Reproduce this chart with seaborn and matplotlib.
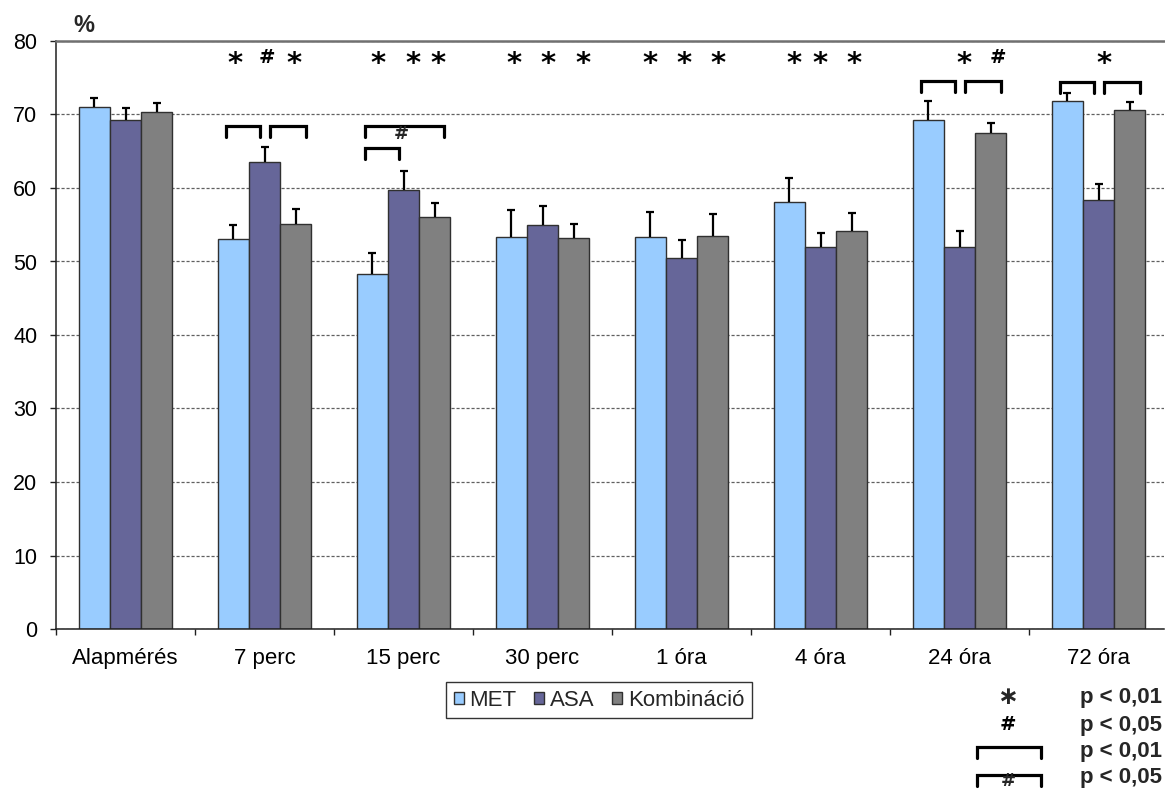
import numpy as np
import pandas as pd
import matplotlib
matplotlib.use("Agg")
import matplotlib.pyplot as plt
from matplotlib.patches import Patch
from matplotlib.lines import Line2D
from matplotlib.ticker import FixedLocator
import seaborn as sns

# ---- data -------------------------------------------------------------
categories = ["Alapmérés", "7 perc", "15 perc", "30 perc", "1 óra", "4 óra", "24 óra", "72 óra"]
groups = ["MET", "ASA", "Kombináció"]

met_mean = [71.0, 53.1, 48.3, 53.3, 53.3, 58.1, 69.3, 71.8]
met_err = [1.3, 1.8, 2.9, 3.7, 3.4, 3.3, 2.6, 1.1]
asa_mean = [69.3, 63.6, 59.7, 54.9, 50.5, 52.0, 52.0, 58.3]
asa_err = [1.6, 2.0, 2.6, 2.6, 2.4, 1.9, 2.2, 2.2]
komb_mean = [70.3, 55.1, 56.0, 53.2, 53.5, 54.2, 67.5, 70.6]
komb_err = [1.3, 2.1, 1.9, 1.9, 2.9, 2.4, 1.4, 1.1]

palette = {"MET": "#99CCFF", "ASA": "#666699", "Kombináció": "#808080"}

# significance marks above each time point: (category, offset within group, symbol)
marks = [
    (1, -0.209, "*"), (1, 0.014, "#"), (1, 0.211, "*"),
    (2, -0.180, "*"), (2, 0.065, "*"), (2, 0.245, "*"),
    (3, -0.205, "*"), (3, 0.043, "*"), (3, 0.288, "*"),
    (4, -0.228, "*"), (4, 0.019, "*"), (4, 0.266, "*"),
    (5, -0.191, "*"), (5, -0.005, "*"), (5, 0.242, "*"),
    (6, 0.032, "*"), (6, 0.276, "#"),
    (7, 0.040, "*"),
]
mark_level = 77.7

# pairwise brackets: (category, compared pair, height, label inside)
bracket_spans = {"MET-ASA": (-0.277, -0.029), "ASA-Komb": (0.043, 0.295), "MET-Komb": (-0.277, 0.29)}
brackets = [
    (1, "MET-ASA", 68.4, ""), (1, "ASA-Komb", 68.4, ""),
    (2, "MET-Komb", 68.4, "#"), (2, "MET-ASA", 65.4, ""),
    (6, "MET-ASA", 74.5, ""), (6, "ASA-Komb", 74.5, ""),
    (7, "MET-ASA", 74.4, ""), (7, "ASA-Komb", 74.4, ""),
]
bracket_leg = 1.5

key_symbols = ["∗", "#"]
key_labels = ["p < 0,01", "p < 0,05", "p < 0,01", "p < 0,05"]

# ---- figure -----------------------------------------------------------
sns.set_theme(style="white")
plt.rcParams["font.family"] = ["Liberation Sans", "DejaVu Sans"]

W, H = 1165, 791
fig = plt.figure(figsize=(W / 100, H / 100), dpi=100)
ax = fig.add_axes([56 / W, (H - 629) / H, 1108 / W, 588 / H])

df = pd.DataFrame({
    "idő": np.tile(categories, 3),
    "csoport": np.repeat(groups, len(categories)),
    "érték": met_mean + asa_mean + komb_mean,
})
sns.barplot(data=df, x="idő", y="érték", hue="csoport", order=categories,
            hue_order=groups, palette=palette, saturation=1, width=0.67, errorbar=None,
            edgecolor="#303030", linewidth=1.0, legend=False, ax=ax, zorder=2)

# upward-only error bars taken from the drawn bars
for cont, errs in zip(ax.containers, [met_err, asa_err, komb_err]):
    xs = [p.get_x() + p.get_width() / 2 for p in cont.patches]
    ys = [p.get_height() for p in cont.patches]
    eb = ax.errorbar(xs, ys, yerr=[np.zeros(len(errs)), errs], fmt="none",
                     ecolor="black", elinewidth=1.6, capsize=3.2, capthick=1.6, zorder=3)
    for cl in eb[1]:
        if np.allclose(cl.get_ydata(), ys):
            cl.set_visible(False)

ax.set_xlim(-0.5, -0.5 + 1108 / 139)
ax.set_ylim(0, 80)
ax.set_yticks(range(0, 81, 10))
ax.set_xlabel("")
ax.set_ylabel("")

ax.yaxis.grid(True, color="#606060", linestyle=(0, (2.5, 1.5)), linewidth=0.9)
ax.xaxis.grid(False)
ax.set_axisbelow(True)

for side in ["left", "bottom"]:
    ax.spines[side].set_color("#202020")
    ax.spines[side].set_linewidth(1.1)
ax.spines["right"].set_visible(False)
ax.spines["top"].set_color("#707070")
ax.spines["top"].set_linewidth(1.8)

ax.tick_params(axis="y", which="major", direction="out", length=4.5, width=1.0,
               color="#202020", left=True, pad=9, labelsize=15.5, labelcolor="black")
ax.tick_params(axis="x", which="major", length=0, pad=14, labelsize=16, labelcolor="black")
ax.xaxis.set_minor_locator(FixedLocator(np.arange(-0.5, 7.0, 1.0)))
ax.tick_params(axis="x", which="minor", direction="out", length=4.5, width=1.0,
               color="#202020", bottom=True)

STAR = dict(fontsize=21, fontweight="bold", family="DejaVu Sans", color="black")
HASH = dict(fontsize=14, fontweight="bold", family="DejaVu Sans", color="black")

# significance symbols
for cat, off, sym in marks:
    if sym == "*":
        ax.text(cat + off, mark_level - 1.9, "*", ha="center", va="baseline", zorder=4, **STAR)
    else:
        ax.text(cat + off, mark_level, "#", ha="center", va="center", zorder=4, **HASH)

# brackets between compared groups
for cat, pair, top, lab in brackets:
    x0, x1 = bracket_spans[pair]
    ax.plot([cat + x0, cat + x0, cat + x1, cat + x1],
            [top - bracket_leg, top, top, top - bracket_leg],
            color="black", lw=2.3, solid_joinstyle="miter", zorder=4)
    if lab:
        ax.text(cat - 0.017, top - 1.0, lab, ha="center", va="center", zorder=4,
                fontsize=13, fontweight="bold", family="DejaVu Sans")

# unit label
fig.text(84 / W, 1 - 25 / H, "%", ha="center", va="center", fontsize=17, fontweight="bold")

# legend
handles = [Patch(facecolor=palette[g], edgecolor="#303030", linewidth=1.0) for g in groups]
leg = fig.legend(handles, groups, loc="center", bbox_to_anchor=(599 / W, 1 - 700 / H),
                 ncol=3, fontsize=16, frameon=True, fancybox=False, edgecolor="black",
                 handlelength=0.45, handleheight=0.45, handletextpad=0.25,
                 columnspacing=0.8, borderpad=0.35)
leg.get_frame().set_linewidth(1.0)

# key for the significance symbols
def fx(px):
    return px / W

def fy(py):
    return 1 - py / H

fig.text(fx(1008), fy(697), key_symbols[0], ha="center", va="center",
         fontsize=18, fontweight="bold", family="DejaVu Sans")
fig.text(fx(1008), fy(725), key_symbols[1], ha="center", va="center", **HASH)
for top in (747, 775):
    fig.add_artist(Line2D([fx(977), fx(977), fx(1041), fx(1041)],
                          [fy(top + 11), fy(top), fy(top), fy(top + 11)],
                          transform=fig.transFigure, color="black", lw=2.3,
                          solid_joinstyle="miter"))
fig.text(fx(1008), fy(781), "#", ha="center", va="center", fontsize=13,
         fontweight="bold", family="DejaVu Sans")
for py, lab in zip((697, 725, 751, 778), key_labels):
    fig.text(fx(1080), fy(py), lab, ha="left", va="center", fontsize=16, fontweight="bold")

fig.savefig("out.png", dpi=100)
